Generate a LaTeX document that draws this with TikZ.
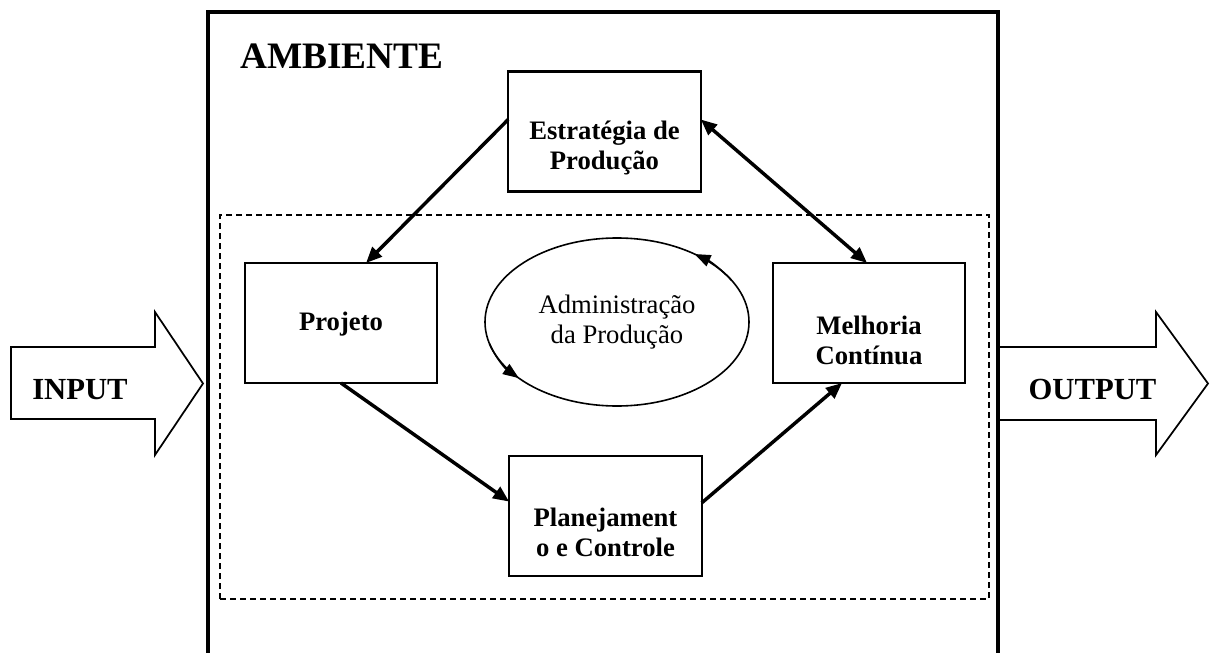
\documentclass[tikz,border=0pt]{standalone}
\usepackage{fontspec}
\setmainfont{Liberation Serif}
\usetikzlibrary{shapes.geometric,arrows.meta,calc}
\begin{document}
\begin{tikzpicture}[x=0.75pt,y=-0.75pt,
  boxnode/.style={draw, line width=1.6pt, minimum width=144.5pt, minimum height=90pt, inner sep=0pt, outer sep=0pt},
  boxtext/.style={font=\bfseries\fontsize{20}{22.5}\selectfont, align=center, inner sep=0pt},
  conn/.style={line width=2.6pt, -{Triangle[length=12pt,width=10pt]}},
  biconn/.style={line width=2.6pt, {Triangle[length=12pt,width=10pt]}-{Triangle[length=12pt,width=10pt]}},
  ellarrow/.style={line width=1.2pt, -{Triangle[length=12pt,width=9pt]}},
  dashbox/.style={draw, line width=1.3pt, dash pattern=on 4.5pt off 3pt},
  bigarrow/.style={draw, line width=1.3pt, line join=miter},
  bigtext/.style={font=\bfseries\fontsize{23}{27}\selectfont, inner sep=0pt, anchor=base}
]
\useasboundingbox (0,0) rectangle (1211,653);

% outer environment frame (open at the bottom)
\draw[line width=2.6pt] (208,660) -- (208,12) -- (998,12) -- (998,660);
\node[bigtext, anchor=base west, font=\bfseries\fontsize{28}{32}\selectfont] (amb) at (240,68) {AMBIENTE};

% dashed core frame
\node[dashbox, minimum width=576.75pt, minimum height=288pt, inner sep=0pt] (core) at (604.5,407) {};

% boxes
\node[boxnode] (est) at (604.5,131.5) {};
\node[boxtext] (estT) at (604.5,147.5) {Estratégia de\\Produção};
\node[boxnode] (proj) at (341,323) {};
\node[boxtext] (projT) at (341,324) {Projeto};
\node[boxnode] (mel) at (869,323) {};
\node[boxtext] (melT) at (869,340) {Melhoria\\Contínua};
\node[boxnode] (plan) at (605.5,516) {};
\node[boxtext] (planT) at (605.5,532) {Planejament\\o e Controle};

% central ellipse
\node[draw, ellipse, line width=1.2pt, minimum width=198pt, minimum height=126pt, inner sep=0pt,
      align=center, font=\fontsize{20}{22.5}\selectfont] (adm) at (617,322) {Administração\\da Produção};
\draw[ellarrow] (731.3,280) arc[start angle=-30, end angle=-54, x radius=132, y radius=84];
\draw[ellarrow] (489.5,343.7) arc[start angle=-195, end angle=-222, x radius=132, y radius=84];

% connectors
\draw[conn] ($(est.north west)!0.4!(est.south west)$) -- ($(proj.north west)!0.63!(proj.north east)$);
\draw[biconn] ($(est.north east)!0.4!(est.south east)$) -- ($(mel.north west)!0.49!(mel.north east)$);
\draw[conn] (proj.south) -- ($(plan.north west)!0.38!(plan.south west)$);
\draw[conn] ($(plan.north east)!0.39!(plan.south east)$) -- ($(mel.south west)!0.36!(mel.south east)$);

% input / output block arrows
\draw[bigarrow] (11,347) -- (155,347) -- (155,312) -- (203,383.5) -- (155,455) -- (155,419) -- (11,419) -- cycle;
\node[bigtext] (in) at (80,399) {INPUT};
\draw[bigarrow] (999,347) -- (1156,347) -- (1156,312) -- (1208,383.5) -- (1156,455) -- (1156,420) -- (999,420);
\node[bigtext] (out) at (1092.5,399) {OUTPUT};
\end{tikzpicture}
\end{document}
